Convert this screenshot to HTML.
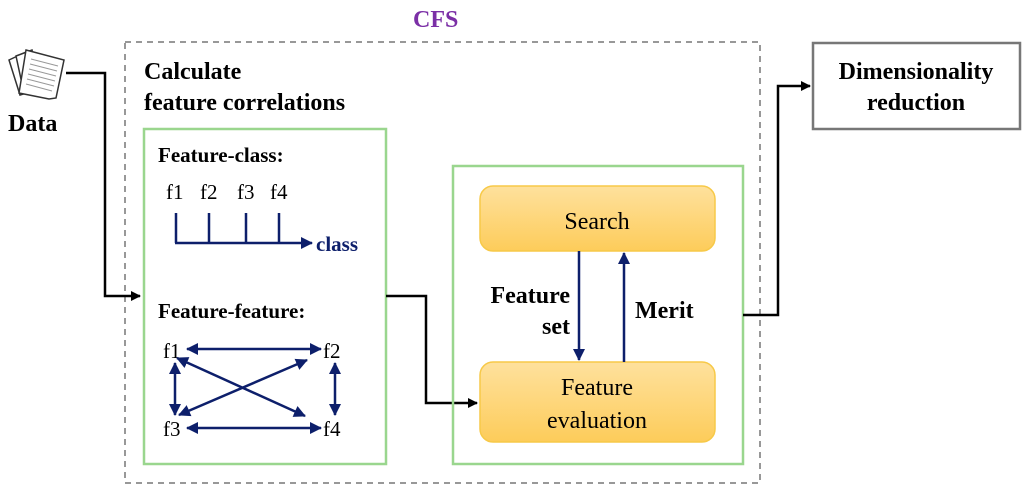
<!DOCTYPE html>
<html><head><meta charset="utf-8"><style>
html,body{margin:0;padding:0;background:#fff;}
svg{display:block;}
svg text{font-family:"Liberation Serif","Times New Roman",serif;}
</style></head><body>
<svg width="1024" height="493" viewBox="0 0 1024 493" xmlns="http://www.w3.org/2000/svg" font-family="Liberation Serif, serif">
<defs>
<marker id="ab" markerWidth="10" markerHeight="10" refX="9" refY="5" orient="auto" markerUnits="userSpaceOnUse"><path d="M0,0 L10,5 L0,10 z" fill="#000"/></marker>
<marker id="an" markerWidth="12" markerHeight="12" refX="11" refY="6" orient="auto-start-reverse" markerUnits="userSpaceOnUse"><path d="M0,0 L12,6 L0,12 z" fill="#0d1f6b"/></marker>
<linearGradient id="og" x1="0" y1="0" x2="0" y2="1"><stop offset="0" stop-color="#fee19d"/><stop offset="1" stop-color="#fdcc5a"/></linearGradient>
</defs>
<g font-family="Liberation Serif, serif">
<text x="413" y="27" font-size="24" font-weight="bold" fill="#7b2fa6">CFS</text>
<rect x="125" y="42" width="635" height="441" fill="none" stroke="#777" stroke-width="1.5" stroke-dasharray="6,5"/>
<g stroke="#333" stroke-width="1.5" fill="#fff">
<path d="M9,60 L26,52 L36,90 L20,95 z"/>
<path d="M16,56 L32,50 L40,88 L24,93 z"/>
<path d="M26,50 L64,60 L56,98 L49,99 L19,93 z"/>
</g>
<g stroke="#999" stroke-width="1">
<line x1="31" y1="59" x2="58" y2="66"/><line x1="30" y1="64" x2="57" y2="71"/><line x1="29" y1="69" x2="56" y2="76"/><line x1="28" y1="74" x2="55" y2="81"/><line x1="27" y1="79" x2="54" y2="86"/><line x1="26" y1="84" x2="52" y2="91"/>
</g>
<text x="8" y="131" font-size="24" font-weight="bold">Data</text>
<polyline points="66,73 105,73 105,296 140,296" fill="none" stroke="#000" stroke-width="2.5" marker-end="url(#ab)"/>
<text x="144" y="79" font-size="24" font-weight="bold">Calculate</text>
<text x="144" y="110" font-size="24" font-weight="bold">feature correlations</text>
<rect x="144" y="129" width="242" height="335" fill="none" stroke="#9ad68e" stroke-width="2.5"/>
<text x="158" y="162" font-size="21" font-weight="bold">Feature-class:</text>
<g font-size="21"><text x="166" y="199">f1</text><text x="200" y="199">f2</text><text x="237" y="199">f3</text><text x="270" y="199">f4</text></g>
<g stroke="#0d1f6b" stroke-width="2.5" fill="none">
<line x1="176" y1="213" x2="176" y2="243"/><line x1="209" y1="213" x2="209" y2="243"/><line x1="246" y1="213" x2="246" y2="243"/><line x1="279" y1="213" x2="279" y2="243"/>
<line x1="175" y1="243" x2="312" y2="243" marker-end="url(#an)"/>
</g>
<text x="316" y="251" font-size="21" font-weight="bold" fill="#0d1f6b">class</text>
<text x="158" y="318" font-size="21" font-weight="bold">Feature-feature:</text>
<g font-size="21"><text x="163" y="358">f1</text><text x="323" y="358">f2</text><text x="163" y="436">f3</text><text x="323" y="436">f4</text></g>
<g stroke="#0d1f6b" stroke-width="2.5" fill="none">
<line x1="187" y1="349" x2="321" y2="349" marker-start="url(#an)" marker-end="url(#an)"/>
<line x1="187" y1="428" x2="321" y2="428" marker-start="url(#an)" marker-end="url(#an)"/>
<line x1="175" y1="363" x2="175" y2="415" marker-start="url(#an)" marker-end="url(#an)"/>
<line x1="335" y1="363" x2="335" y2="415" marker-start="url(#an)" marker-end="url(#an)"/>
<line x1="177" y1="358" x2="305" y2="416" marker-start="url(#an)" marker-end="url(#an)"/>
<line x1="307" y1="360" x2="179" y2="415" marker-start="url(#an)" marker-end="url(#an)"/>
</g>
<polyline points="386,296 426,296 426,403 477,403" fill="none" stroke="#000" stroke-width="2.5" marker-end="url(#ab)"/>
<rect x="453" y="166" width="290" height="298" fill="none" stroke="#9ad68e" stroke-width="2.5"/>
<rect x="480" y="186" width="235" height="65" rx="13" fill="url(#og)" stroke="#f7c948" stroke-width="1.5"/>
<text x="597" y="229" font-size="24" text-anchor="middle">Search</text>
<rect x="480" y="362" width="235" height="80" rx="13" fill="url(#og)" stroke="#f7c948" stroke-width="1.5"/>
<text x="597" y="395" font-size="24" text-anchor="middle">Feature</text>
<text x="597" y="428" font-size="24" text-anchor="middle">evaluation</text>
<g stroke="#0d1f6b" stroke-width="2.5" fill="none">
<line x1="579" y1="251" x2="579" y2="360" marker-end="url(#an)"/>
<line x1="624" y1="362" x2="624" y2="253" marker-end="url(#an)"/>
</g>
<text x="570" y="303" font-size="24" font-weight="bold" text-anchor="end">Feature</text>
<text x="570" y="334" font-size="24" font-weight="bold" text-anchor="end">set</text>
<text x="635" y="318" font-size="24" font-weight="bold">Merit</text>
<polyline points="743,315 778,315 778,86 810,86" fill="none" stroke="#000" stroke-width="2.5" marker-end="url(#ab)"/>
<rect x="813" y="43" width="207" height="86" fill="#fff" stroke="#777" stroke-width="2.5"/>
<text x="916" y="79" font-size="24" font-weight="bold" text-anchor="middle">Dimensionality</text>
<text x="916" y="110" font-size="24" font-weight="bold" text-anchor="middle">reduction</text>
</g>
</svg>
</body></html>
